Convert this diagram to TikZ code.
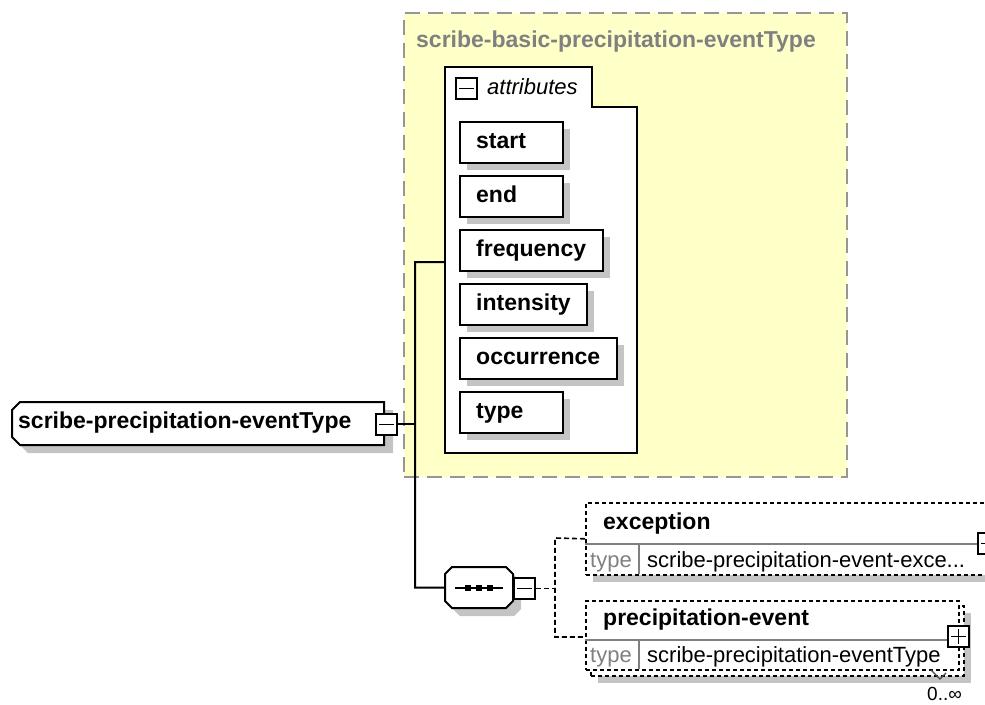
\documentclass[tikz,border=0pt]{standalone}
\usepackage{fontspec}
\setmainfont{Liberation Sans}
\definecolor{ylw}{RGB}{255,255,200}
\definecolor{ybord}{RGB}{150,150,150}
\definecolor{shd}{RGB}{196,196,196}
\definecolor{gtxt}{RGB}{128,128,128}
\definecolor{divg}{RGB}{128,128,128}
\begin{document}
\begin{tikzpicture}[x=1pt,y=-1pt,
  bfont/.style={font=\fontsize{23}{27}\selectfont\bfseries, inner sep=0pt},
  rfont/.style={font=\fontsize{22}{26}\selectfont, inner sep=0pt},
  blk/.style={line width=2pt},
  pmbox/.style={draw, line width=1.8pt, fill=white, minimum width=21pt, minimum height=21pt, inner sep=0pt, anchor=north west},
  pmline/.style={line width=1.8pt},
  attrbox/.style={draw, line width=2pt, fill=white, minimum height=41pt, inner sep=0pt, anchor=north west},
  elbox/.style={draw, fill=white, line width=1.6pt, dash pattern=on 4pt off 3pt, inner sep=0pt, anchor=north west},
  dsh/.style={line width=1.6pt, dash pattern=on 5pt off 3pt},
  divline/.style={draw=divg, line width=1.2pt}]
\useasboundingbox (0,0) rectangle (985,704);
\clip (0,0) rectangle (985,704);

% ---- group box
\node[draw=ybord, fill=ylw, line width=2.2pt, dash pattern=on 15pt off 8pt,
      minimum width=443pt, minimum height=464pt, inner sep=0pt, anchor=north west] (group) at (403,12) {};
\node[bfont, text=gtxt, anchor=base west] (gtitle) at (416,47) {scribe-basic-precipitation-eventType};

% ---- attributes container
\draw[blk, fill=white] (445,67) -- (592,67) -- (592,107) -- (637,107) -- (637,453) -- (445,453) -- cycle;
\node[pmbox, line width=1.5pt] (attrpm) at (455,77) {};
\draw[line width=1.5pt] ([xshift=4pt]attrpm.west) -- ([xshift=-4pt]attrpm.east);
\node[rfont, font=\fontsize{22}{26}\selectfont\itshape, anchor=base west] (attrlbl) at (487,94) {attributes};
\coordinate (attrin) at (445,262);

\foreach \n/\t/\w in {start/121/103, end/175/103, frequency/229/143, intensity/283/127, occurrence/337/157, type/391/103}{
  \fill[shd] (467,\t+8) rectangle ++(\w,41);
  \node[attrbox, minimum width=\w pt] (a-\n) at (459,\t) {};
  \node[bfont, anchor=base west] (t-\n) at (476,\t+27) {\n};
}

% ---- root element
\fill[shd] (28,410) -- (393,410) -- (393,453) -- (28,453) -- (20,445) -- (20,418) -- cycle;
\draw[blk, fill=white] (20,402) -- (384,402) -- (384,445) -- (20,445) -- (12,437) -- (12,410) -- cycle;
\node[bfont, anchor=base west] (root) at (18,428) {scribe-precipitation-eventType};
\node[pmbox] (rootpm) at (375,413) {};
\draw[pmline] ([xshift=4pt]rootpm.west) -- ([xshift=-4pt]rootpm.east);

% ---- sequence compositor
\fill[shd] (460,575) -- (514,575) -- (521,582) -- (521,609) -- (514,616) -- (460,616) -- (453,609) -- (453,582) -- cycle;
\draw[blk, fill=white] (452,567) -- (506,567) -- (513,574) -- (513,601) -- (506,608) -- (452,608) -- (445,601) -- (445,574) -- cycle;
\node[minimum width=68pt, minimum height=41pt, inner sep=0pt, anchor=north west] (seq) at (445,567) {};
\draw[blk] (455,587.5) -- (503,587.5);
\foreach \cx in {468,479,490}{ \fill (\cx-3,584.5) rectangle ++(6,6); }
\node[pmbox] (seqpm) at (513,577) {};
\draw[pmline] ([xshift=4pt]seqpm.west) -- ([xshift=-4pt]seqpm.east);

% ---- solid tree connectors
\coordinate (jtop) at (415,262);
\coordinate (jbot) at (415,587.5);
\draw[blk] (rootpm.east) -- (rootpm.east -| jtop);
\draw[blk] (attrin) -- (jtop) -- (jbot) -- (seq.west);

% ---- exception element
\fill[shd] (593,574) rectangle (1000,582);
\node[elbox, minimum width=415pt, minimum height=72pt] (exc) at (585,502) {};
\draw[divline] (585,544) -- (977,544);
\draw[divline] (639,544) -- (639,574);
\node[bfont, anchor=base west] (excname) at (603,529) {exception};
\node[rfont, text=gtxt, anchor=base west] (exctl) at (590,567) {type};
\node[rfont, anchor=base west] (exctv) at (647,567) {scribe-precipitation-event-exce...};
\node[pmbox] (excpm) at (977,532) {};
\draw[pmline] ([xshift=4pt]excpm.west) -- ([xshift=-4pt]excpm.east);
\draw[pmline] ([yshift=4pt]excpm.south) -- ([yshift=-4pt]excpm.north);

% ---- precipitation-event element (multiple)
\fill[shd] (598,613) rectangle (971,683);
\node[elbox, minimum width=373pt, minimum height=70pt] (peback) at (590,605) {};
\node[elbox, minimum width=373pt, minimum height=69pt] (pe) at (585,600) {};
\draw[divline] (585,640) -- (947,640);
\draw[divline] (639,640) -- (639,669);
\node[bfont, anchor=base west] (pename) at (603,625) {precipitation-event};
\node[rfont, text=gtxt, anchor=base west] (petl) at (590,662) {type};
\node[rfont, anchor=base west] (petv) at (647,662) {scribe-precipitation-eventType};
\node[pmbox] (pepm) at (947,625) {};
\draw[pmline] ([xshift=4pt]pepm.west) -- ([xshift=-4pt]pepm.east);
\draw[pmline] ([yshift=4pt]pepm.south) -- ([yshift=-4pt]pepm.north);
\draw[line width=1.3pt, black!70] (931,670) -- (940,679) -- (946,673);
\node[font=\fontsize{19}{23}\selectfont, inner sep=0pt, anchor=base west] (occ) at (927,700) {0..∞};

% ---- dashed compositor connectors
\coordinate (vtop) at (555,538);
\coordinate (vbot) at (555,637);
\draw[dsh] (seqpm.east) -- (seqpm.east -| vtop);
\draw[dsh] (exc.west) -- (vtop) -- (vbot) -- (vbot -| pe.west);
\end{tikzpicture}
\end{document}
